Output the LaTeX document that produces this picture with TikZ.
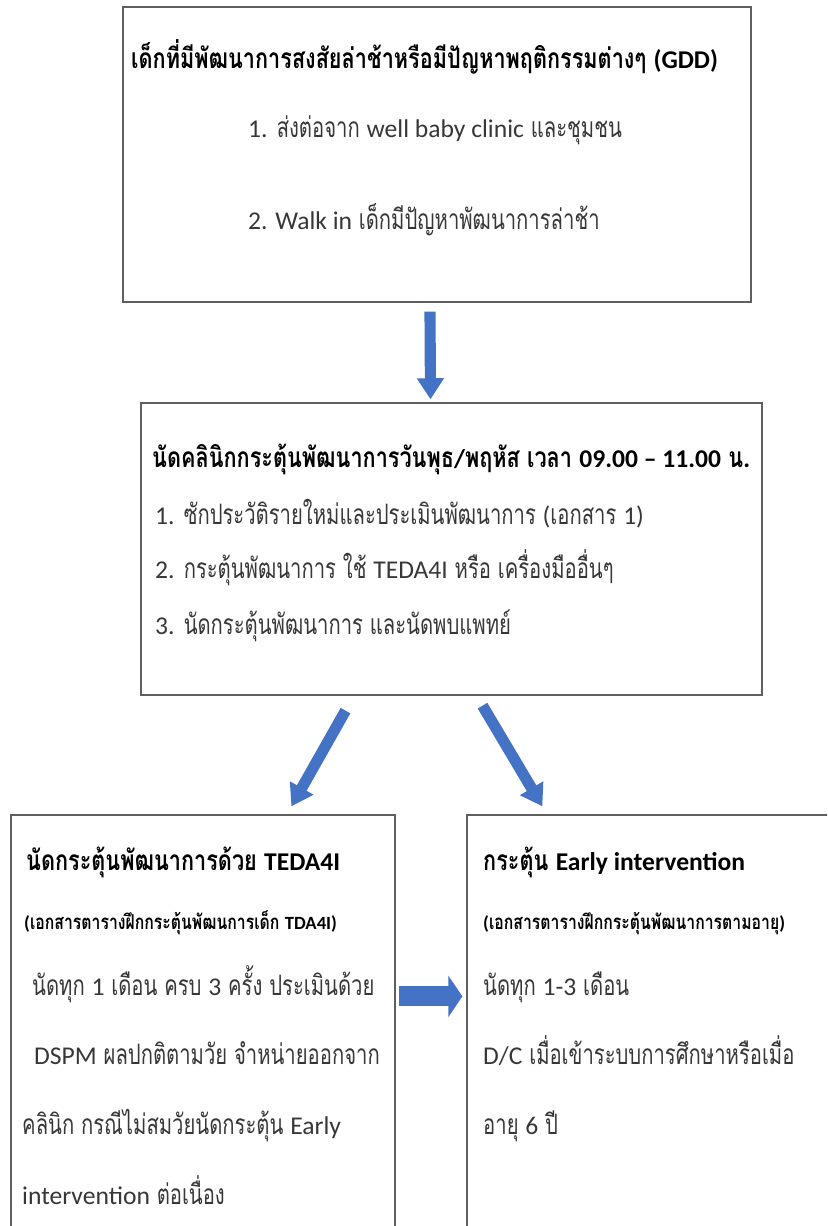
\documentclass[tikz,border=0pt]{standalone}
\usepackage{fontspec}
\newfontfamily\thaifont[Script=Thai, FakeStretch=0.72]{Loma}
\newfontfamily\thaiheadfont[Script=Thai, FakeStretch=0.77]{Loma}
\newfontfamily\latinfont[Scale=0.91]{Carlito}
\usetikzlibrary{arrows.meta}
\usetikzlibrary{calc}
\usetikzlibrary{fit}

\definecolor{arrowblue}{RGB}{68,114,196}
\definecolor{boxgray}{RGB}{95,95,95}
\definecolor{bodygray}{RGB}{55,55,55}

\newcommand\bodyfont{\thaifont\fontsize{24}{28}\selectfont}
\newcommand\headfont{\thaiheadfont\bfseries\fontsize{24}{28}\selectfont}
\newcommand\subheadfont{\thaiheadfont\bfseries\fontsize{17.5}{20}\selectfont}
\newcommand\lt[1]{{\latinfont #1}}

\begin{document}
\begin{tikzpicture}[x=0.03cm, y=-0.03cm,
		every node/.style={inner sep=0pt, anchor=base west, text=bodygray, font=\bodyfont},
		box/.style={draw=boxgray, line width=1.1pt, anchor=center},
		heading/.style={text=black, font=\headfont},
		subheading/.style={text=black, font=\subheadfont},
		blockarrow/.style={draw=arrowblue, line width=9.5pt, -{Triangle[width=22pt,length=18pt]}}]
				\useasboundingbox (0,0) rectangle (827,1226);
				\clip (0,0) rectangle (827,1226);
				
				% Boxes
				\node[box, fit={(123,7) (751,302)}] (gdd) {};
				\node[box, fit={(141,403) (762,695)}] (clinic) {};
				\node[box, fit={(11,815) (395,1245)}] (teda) {};
				\node[box, fit={(467,815) (845,1245)}] (early) {};
				
				% Referral box
				\node[heading] (gddtitle) at (131,68) {เด็กที่มีพัฒนาการสงสัยล่าช้าหรือมีปัญหาพฤติกรรมต่างๆ \lt{(GDD)}};
				\node (gdda) at (248,137) {\lt{1.} ส่งต่อจาก \lt{well baby clinic} และชุมชน};
				\node (gddb) at (248,229) {\lt{2. Walk in} เด็กมีปัญหาพัฒนาการล่าช้า};
				
				% Clinic box
				\node[heading] (clinictitle) at (152,467) {นัดคลินิกกระตุ้นพัฒนาการวันพุธ\lt{/}พฤหัส เวลา \lt{09.00 – 11.00} น\lt{.}};
				\node (clinica) at (155,524) {\lt{1.} ซักประวัติรายใหม่และประเมินพัฒนาการ \lt{(}เอกสาร \lt{1)}};
				\node (clinicb) at (155,578) {\lt{2.} กระตุ้นพัฒนาการ ใช้ \lt{TEDA4I} หรือ เครื่องมืออื่นๆ};
				\node (clinicc) at (155,634) {\lt{3.} นัดกระตุ้นพัฒนาการ และนัดพบแพทย์};
				
				% TEDA4I box
				\node[heading] (tedatitle) at (26,870) {นัดกระตุ้นพัฒนาการด้วย \lt{TEDA4I}};
				\node[subheading] (tedasub) at (24,929) {\lt{(}เอกสารตารางฝึกกระตุ้นพัฒนการเด็ก \lt{TDA4I)}};
				\node (tedaa) at (32,995) {นัดทุก \lt{1} เดือน ครบ \lt{3} ครั้ง ประเมินด้วย};
				\node (tedab) at (34,1064) {\lt{DSPM} ผลปกติตามวัย จำหน่ายออกจาก};
				\node (tedac) at (22,1134) {คลินิก กรณีไม่สมวัยนัดกระตุ้น \lt{Early}};
				\node (tedad) at (22,1204) {\lt{intervention} ต่อเนื่อง};
				
				% Early intervention box
				\node[heading] (earlytitle) at (483,870) {กระตุ้น \lt{Early intervention}};
				\node[subheading] (earlysub) at (483,929) {\lt{(}เอกสารตารางฝึกกระตุ้นพัฒนาการตามอายุ\lt{)}};
				\node (earlya) at (483,995) {นัดทุก \lt{1-3} เดือน};
				\node (earlyb) at (483,1064) {\lt{D/C} เมื่อเข้าระบบการศึกษาหรือเมื่อ};
				\node (earlyc) at (483,1134) {อายุ \lt{6} ปี};
				
				% Arrows
				\draw[blockarrow] ($(gdd.south)+(-7,9)$) -- ($(clinic.north)+(-21,-3)$);
				\draw[blockarrow] ($(clinic.south)+(-106,15)$) -- ($(teda.north west)+(281,-8)$);
				\draw[blockarrow] ($(clinic.south)+(31,10)$) -- ($(early.north west)+(76,-8)$);
				\draw[blockarrow, line width=17pt, -{Triangle[width=35pt,length=12pt]}]
				($(teda.north east)+(3,182)$) -- ($(early.north west)+(-4,182)$);
			\end{tikzpicture}
\end{document}
